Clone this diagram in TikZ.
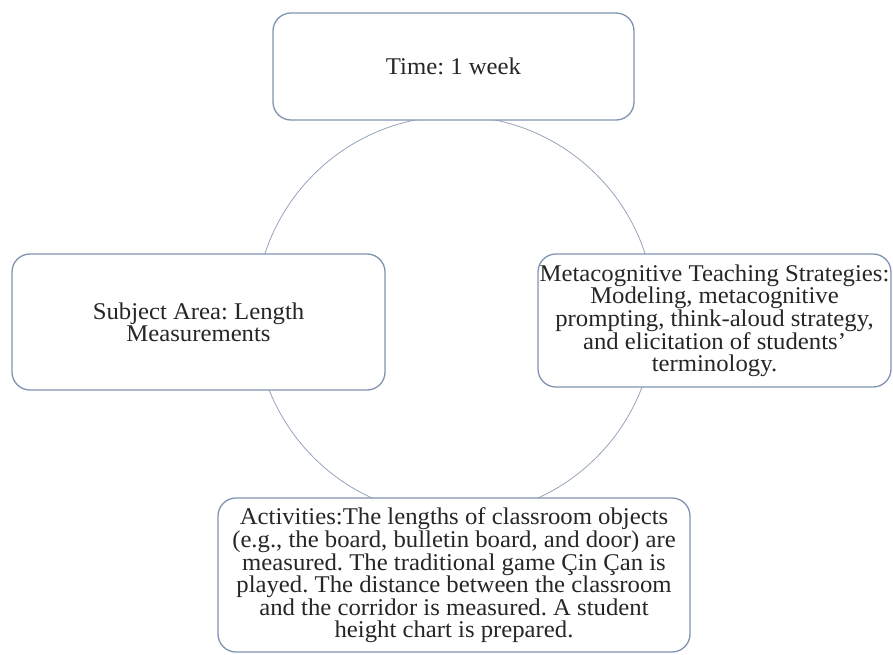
\documentclass[tikz,border=0pt]{standalone}
\usepackage{fontspec}
\setmainfont[FakeStretch=1.03]{Liberation Serif}
\frenchspacing
\definecolor{boxline}{RGB}{128,148,178}
\definecolor{ringline}{RGB}{150,163,186}
\begin{document}
\begin{tikzpicture}[x=1pt,y=-1pt,
  cyclebox/.style={draw=boxline, line width=1.3pt, fill=white, rounded corners=18pt,
    align=center, inner sep=0pt, font=\fontsize{24}{21.7}\selectfont, text=black!85},
]
\useasboundingbox (0,0) rectangle (893,654);
\coordinate (ringc) at (455,316);
\draw[ringline, line width=0.8pt] (ringc) circle[radius=200pt];
\node[cyclebox, minimum width=361pt, minimum height=107pt] (time) at (453.5,66.5) {Time: 1 week};
\node[cyclebox, minimum width=373pt, minimum height=136pt] (subject) at (198.5,322) {Subject Area: Length\\Measurements};
\node[cyclebox, minimum width=353pt, minimum height=133pt] (strategies) at (714.5,320.5) {Metacognitive Teaching Strategies:\\Modeling, metacognitive\\prompting, think-aloud strategy,\\and elicitation of students’\\terminology.};
\node[cyclebox, minimum width=472pt, minimum height=154pt] (activities) at (454,575) {Activities:The lengths of classroom objects\\(e.g., the board, bulletin board, and door) are\\measured. The traditional game Çin Çan is\\played. The distance between the classroom\\and the corridor is measured. A student\\height chart is prepared.};
\end{tikzpicture}
\end{document}
